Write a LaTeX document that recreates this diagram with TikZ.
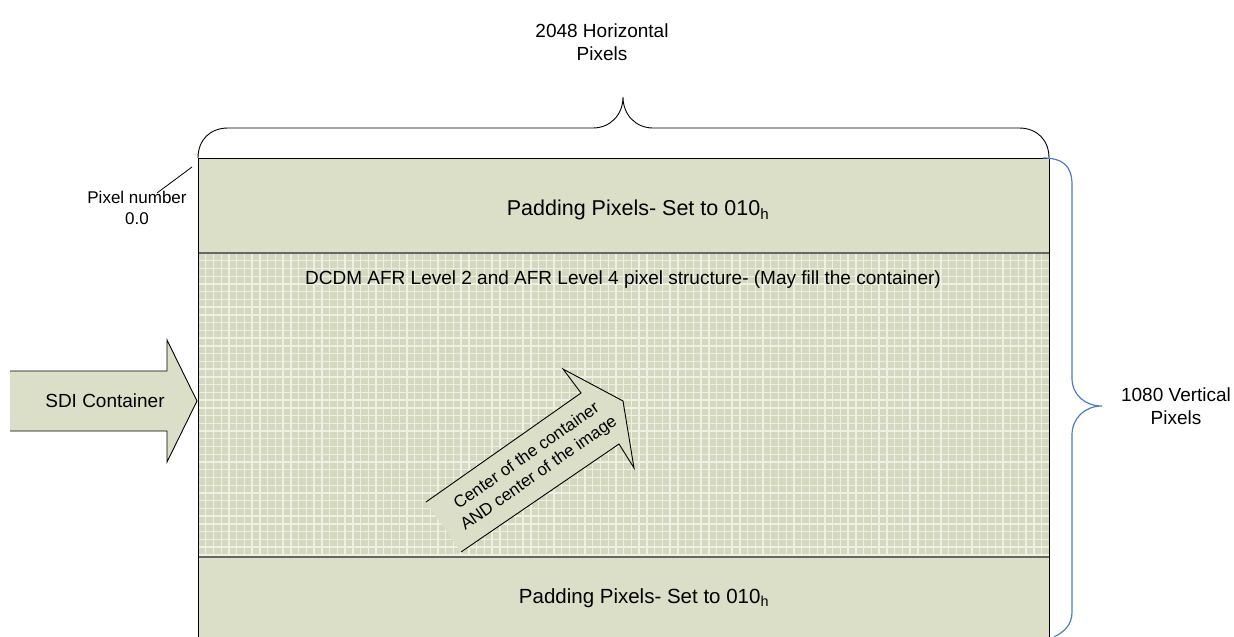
\documentclass[tikz,border=0pt]{standalone}
\usepackage{fontspec}
\setmainfont{Liberation Sans}
\usetikzlibrary{calc,positioning}
\definecolor{bandgreen}{HTML}{DCDFC8}
\definecolor{gridgreen}{HTML}{D4D8BE}
\definecolor{gridlight}{HTML}{EEF0E3}
\definecolor{sepgray}{HTML}{666666}
\definecolor{braceblue}{HTML}{4A7EC5}

\begin{document}
\begin{tikzpicture}[x=1pt,y=-1pt,
    txt/.style={font=\fontsize{19}{23}\selectfont, align=center, inner sep=0pt},
    padtxt/.style={font=\fontsize{21.5}{25}\selectfont, align=center, inner sep=0pt},
    smalltxt/.style={font=\fontsize{17}{21}\selectfont, align=center, inner sep=0pt},
    gridln/.style={draw=gridlight, line width=1.4pt},
    sepln/.style={draw=sepgray, line width=1.2pt}]
  \useasboundingbox (0,0) rectangle (1234,637);

  % container with padding bands and pixel grid
  \fill[bandgreen] (198,158) rectangle (1049,640);
  \fill[gridgreen] (198,253) rectangle (1049,557);
  \begin{scope}
    \clip (198,253) rectangle (1049,557);
    \foreach \i in {0,...,110} {
      \draw[gridln] (198+7.74*\i,253) -- ++(0,304);
    }
    \foreach \j in {0,...,40} {
      \draw[gridln] (198,253+7.74*\j) -- ++(851,0);
    }
  \end{scope}
  \draw[sepln] (198,253) -- (1049,253);
  \draw[sepln] (198,557) -- (1049,557);
  \draw[line width=1pt] (198,640) -- (198,158) -- (1049,158) -- (1049,640);

  % braces
  \draw[line width=0.9pt] (198,158) .. controls (198,140) and (210,128) .. (228,128) -- (593,128)
    .. controls (610,128) and (623,115) .. (623,97) .. controls (623,115) and (636,128) .. (653,128)
    -- (1019,128) .. controls (1037,128) and (1049,140) .. (1049,158);
  \draw[braceblue, line width=1.2pt] (1043,158) .. controls (1062,158) and (1072,165) .. (1072,185)
    -- (1072,378) .. controls (1072,395) and (1085,406) .. (1102,406)
    .. controls (1085,406) and (1072,418) .. (1072,435) -- (1072,612)
    .. controls (1072,625) and (1064,632) .. (1054,637);

  % arrows
  \fill[bandgreen] (10,371) -- (167,371) -- (167,340) -- (197,401) -- (167,462) -- (167,431) -- (10,431) -- cycle;
  \draw[line width=0.9pt] (10,371) -- (167,371) -- (167,340) -- (197,401) -- (167,462) -- (167,431) -- (10,431);
  \fill[bandgreen] (426,502) -- (581,393) -- (563,369) -- (623,401) -- (634,468) -- (619,444) -- (461,552) -- cycle;
  \draw[line width=0.9pt] (426,502) -- (581,393) -- (563,369) -- (623,401) -- (634,468) -- (619,444) -- (461,552);

  % texts
  \node[txt] (horiz) at (602,42) {2048 Horizontal\\Pixels};
  \node[txt] (vert) at (1176,406) {1080 Vertical\\Pixels};
  \node[smalltxt] (pixnum) at (137,208) {Pixel number\\0.0};
  \node[padtxt] (padtop) at (638,210) {Padding Pixels- Set to 010\textsubscript{h}};
  \node[txt] (afr) at (623,280) {DCDM AFR Level 2 and AFR Level 4 pixel structure- (May fill the container)};
  \node[padtxt, font=\fontsize{20.5}{24}\selectfont] (padbot) at (644,598) {Padding Pixels- Set to 010\textsubscript{h}};
  \node[txt] (sdi) at (105,401) {SDI Container};
  \node[smalltxt, rotate=35] (centre) at (533,465) {Center of the container\\AND center of the image};

  \coordinate (lead) at (157,193);
  \coordinate (corner) at (192,167);
  \draw[line width=0.8pt] (lead) -- (corner);
\end{tikzpicture}
\end{document}
